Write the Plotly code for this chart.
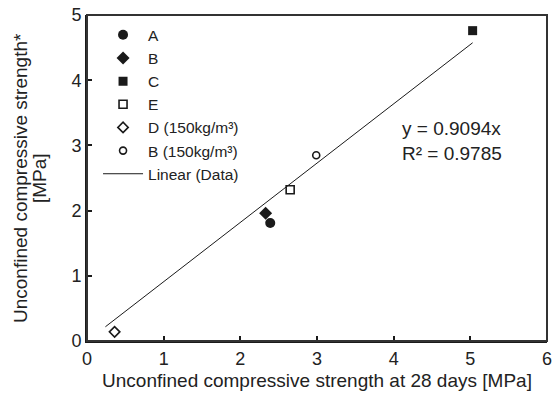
import plotly.graph_objects as go

series_names = ["A", "B", "C", "E", "D (150kg/m³)", "B (150kg/m³)"]
x_values = [[2.39], [2.33], [5.03], [2.65], [0.36], [2.99]]
y_values = [[1.81], [1.96], [4.76], [2.32], [0.14], [2.85]]
symbols = ["circle", "diamond", "square", "square-open", "diamond-open", "circle-open"]
sizes = [10, 10, 9, 8, 8, 7]

trend_slope = 0.9094
trend_r2 = 0.9785
trend_x = [0.24, 5.03]

x_ticks = [0, 1, 2, 3, 4, 5, 6]
y_ticks = [0, 1, 2, 3, 4, 5]

y_title_lines = ["Unconfined compressive strength*", "[MPa]"]
x_title = "Unconfined compressive strength at 28 days [MPa]"

INK = "#1a1a1a"
TXT = "#222"
L, R, T, B = 87, 6, 15, 60
W, H = 553, 401
PW = W - L - R

fig = go.Figure()
for name, xs, ys, sym, sz in zip(series_names, x_values, y_values, symbols, sizes):
    fig.add_trace(go.Scatter(
        x=xs, y=ys, mode="markers", name=name,
        marker=dict(symbol=sym, size=sz, color=INK,
                    line=dict(width=1.6 if "open" in sym else 0, color=INK)),
    ))

fig.add_trace(go.Scatter(
    x=trend_x, y=[trend_slope * v for v in trend_x], mode="lines",
    name="Linear (Data)", line=dict(color=INK, width=1),
))

fig.add_annotation(
    x=4.08, y=3.07, xref="x", yref="y", xanchor="left", yanchor="middle",
    text=f"y = {trend_slope}x<br>R² = {trend_r2}", showarrow=False,
    align="left", font=dict(size=19, color=TXT),
)

# y-axis title as two rotated lines (tighter line spacing than the built-in title)
for line_text, px in zip(y_title_lines, [20, 39]):
    fig.add_annotation(
        x=(px - L) / PW, y=0.5, xref="paper", yref="paper",
        xanchor="center", yanchor="middle", textangle=-90,
        text=line_text, showarrow=False, font=dict(size=19, color=TXT),
    )

axis_common = dict(
    showgrid=False, zeroline=False, showline=True, linecolor=INK, linewidth=2,
    ticks="inside", ticklen=5, tickwidth=1.5, tickcolor=INK,
    tickfont=dict(size=18, color=TXT), mirror=False, automargin=False,
)

fig.update_xaxes(
    range=[0, 6], tickvals=x_ticks,
    title=dict(text=x_title, font=dict(size=19, color=TXT), standoff=6),
    **axis_common,
)
fig.update_yaxes(range=[0, 5], tickvals=y_ticks, **axis_common)

fig.add_shape(type="rect", xref="paper", yref="paper", x0=0, y0=0, x1=1, y1=1,
              line=dict(color="#333", width=2), layer="above")

fig.update_layout(
    width=W, height=H,
    margin=dict(l=L, r=R, t=T, b=B),
    paper_bgcolor="white", plot_bgcolor="white",
    font=dict(family="Liberation Sans, Arial, sans-serif", color=TXT),
    showlegend=True,
    legend=dict(x=0.024, y=0.99, xanchor="left", yanchor="top",
                bgcolor="rgba(0,0,0,0)", font=dict(size=15.5, color=TXT),
                itemwidth=40, tracegroupgap=0),
)

fig.write_html("out.html", config={"displayModeBar": False},
               post_script="document.body.style.margin='0';document.body.style.overflow='hidden';")
